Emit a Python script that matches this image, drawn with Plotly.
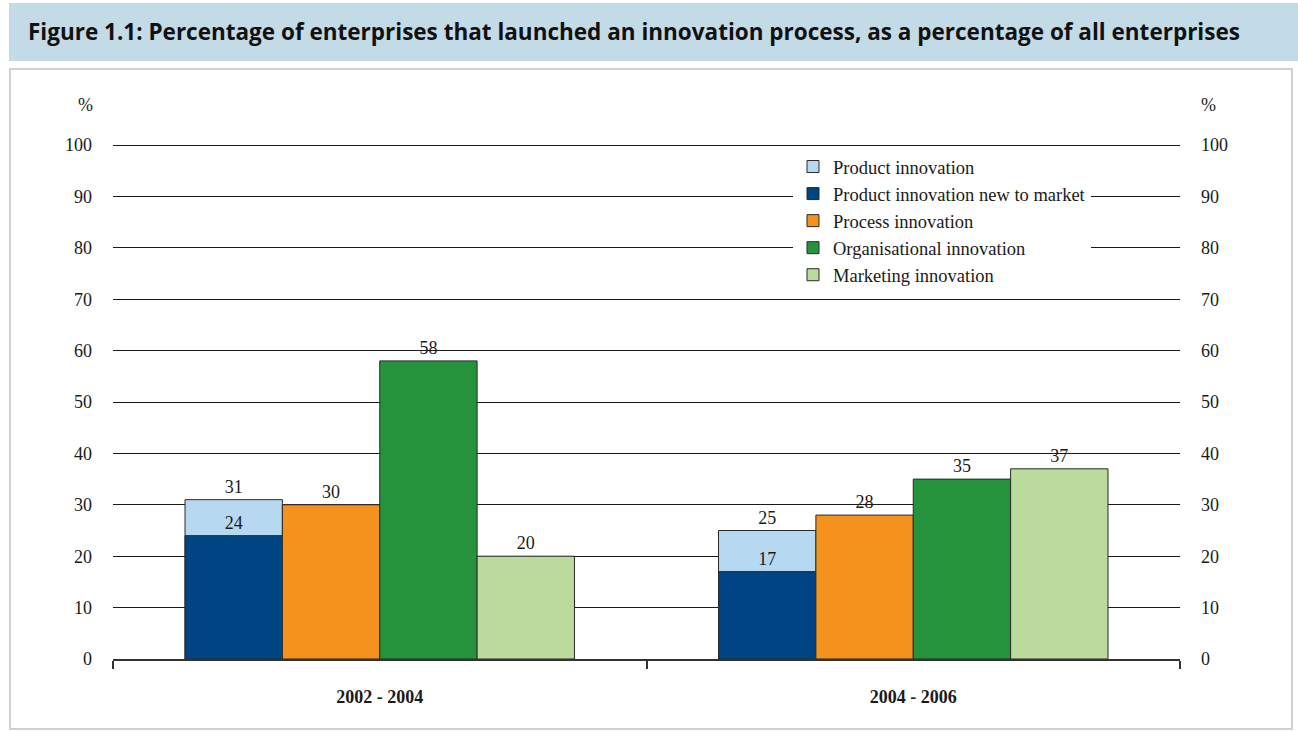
import plotly.graph_objects as go

# Survey periods and innovation shares (% of all enterprises)
periods = ["2002 - 2004", "2004 - 2006"]
product = [31, 25]
product_new_to_market = [24, 17]
process = [30, 28]
organisational = [58, 35]
marketing = [20, 37]

y_ticks = [0, 10, 20, 30, 40, 50, 60, 70, 80, 90, 100]

W, H = 1298, 731
ML, MR, MT, MB = 113, 118, 145, 72
PW, PH = W - ML - MR, H - MT - MB


def px_x(px):
    return (px - ML) / PW


def px_y(py):
    return (H - MB - py) / PH


SERIF = "Liberation Serif"
EDGE = "#2a2a2a"

series = [
    ("Product innovation", product, "#b6d8f0", "g1"),
    ("Product innovation new to market", product_new_to_market, "#004583", "g1"),
    ("Process innovation", process, "#f5921e", "g2"),
    ("Organisational innovation", organisational, "#25933c", "g3"),
    ("Marketing innovation", marketing, "#badb9c", "g4"),
]

fig = go.Figure()
for i, (name, vals, color, grp) in enumerate(series):
    fig.add_trace(go.Bar(
        x=periods, y=vals, name=name, offsetgroup=grp,
        legendgroup=f"lg{i}",
        marker=dict(color=color, line=dict(color=EDGE, width=1)),
        text=[str(v) for v in vals], textposition="outside",
        textfont=dict(family=SERIF, size=18, color="#1a1a1a"),
        constraintext="none", cliponaxis=False,
    ))

# half a pixel in data units, so the 100 % rule lands on a crisp pixel row
half_px = 0.5 * 100 / PH

shapes = [
    # title banner
    dict(type="rect", xref="paper", yref="paper",
         x0=px_x(9), x1=px_x(1300), y0=px_y(61), y1=px_y(3),
         fillcolor="#c3dbe7", line=dict(width=0), layer="below"),
    # chart frame
    dict(type="rect", xref="paper", yref="paper",
         x0=px_x(10), x1=px_x(1292), y0=px_y(729), y1=px_y(69),
         fillcolor="rgba(0,0,0,0)", line=dict(color="#d0d0d0", width=2),
         layer="below"),
    # top rule at 100 %
    dict(type="line", xref="paper", yref="y", x0=0, x1=1,
         y0=100 - half_px, y1=100 - half_px,
         line=dict(color="#1a1a1a", width=1), layer="below"),
]

annotations = [
    dict(text="Figure 1.1: Percentage of enterprises that launched an innovation process, as a percentage of all enterprises",
         xref="paper", yref="paper", x=px_x(26), y=px_y(32),
         xanchor="left", yanchor="middle", showarrow=False,
         font=dict(family="Open Sans", size=22.5, color="#111111", weight="bold")),
    dict(text="%", xref="paper", yref="paper", x=px_x(85), y=px_y(105),
         xanchor="center", yanchor="middle", showarrow=False,
         font=dict(family=SERIF, size=18, color="#1a1a1a")),
    dict(text="%", xref="paper", yref="paper", x=px_x(1208), y=px_y(105),
         xanchor="center", yanchor="middle", showarrow=False,
         font=dict(family=SERIF, size=18, color="#1a1a1a")),
]

axis_font = dict(family=SERIF, size=18, color="#1a1a1a")

fig.update_layout(
    width=W, height=H,
    margin=dict(l=ML, r=MR, t=MT, b=MB, autoexpand=False),
    paper_bgcolor="white", plot_bgcolor="white",
    barmode="group", bargap=0.27, bargroupgap=0,
    showlegend=True,
    legend=dict(
        x=px_x(793), y=px_y(148), xanchor="left", yanchor="top",
        bgcolor="white", borderwidth=0,
        font=dict(family=SERIF, size=18.5, color="#1a1a1a"),
        itemwidth=30, tracegroupgap=3.5, traceorder="normal",
    ),
    xaxis=dict(
        type="category", showgrid=False, showline=True,
        linecolor="#333333", linewidth=1.5,
        ticks="outside", tickson="boundaries", ticklen=8,
        tickcolor="#333333", tickwidth=1.5,
        ticklabelstandoff=21,
        tickfont=dict(family=SERIF, size=18, color="#1a1a1a", weight="bold"),
        zeroline=False,
    ),
    yaxis=dict(
        range=[0, 100], tickvals=y_ticks, showgrid=True,
        gridcolor="#1a1a1a", gridwidth=1, zeroline=False,
        showline=False, ticks="", ticklabelstandoff=20,
        tickfont=axis_font,
    ),
    yaxis2=dict(
        range=[0, 100], tickvals=y_ticks, overlaying="y", side="right",
        showgrid=False, zeroline=False, showline=False, ticks="",
        ticklabelstandoff=20, tickfont=axis_font,
    ),
    shapes=shapes,
    annotations=annotations,
)

# invisible trace that anchors the right-hand scale
fig.add_trace(go.Scatter(x=periods, y=[0, 0], yaxis="y2", mode="markers",
                         marker=dict(opacity=0), showlegend=False,
                         hoverinfo="skip"))

fig.write_html("out.html")
